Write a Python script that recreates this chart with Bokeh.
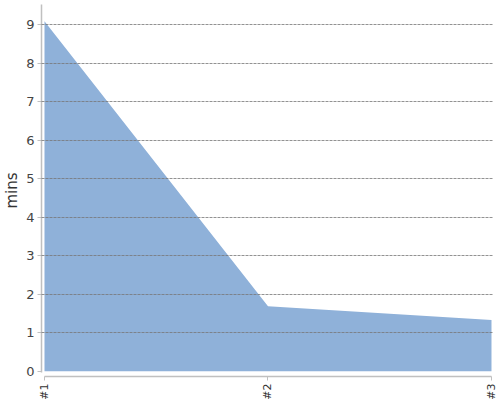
from bokeh.plotting import figure
from bokeh.models import Range1d, FixedTicker, ColumnDataSource
from bokeh.embed import file_html
from bokeh.resources import INLINE
import math

categories = ["#1", "#2", "#3"]
values = [9.09, 1.69, 1.33]
y_ticks = [0, 1, 2, 3, 4, 5, 6, 7, 8, 9]

xs = list(range(len(categories)))
src = ColumnDataSource(dict(x=xs, top=values, base=[0] * len(values)))

p = figure(output_backend="svg", toolbar_location=None,
           frame_width=451, frame_height=372,
           x_range=Range1d(-0.0134, 2.0045), y_range=Range1d(-0.138, 9.527),
           min_border_left=32, min_border_right=9, min_border_top=4, min_border_bottom=0)
p.outline_line_color = None
p.background_fill_color = "white"
p.border_fill_color = "white"

p.varea(x="x", y1="base", y2="top", source=src, fill_color="#8fb1d9", fill_alpha=1.0)

font = "DejaVu Sans"
# y axis
ya = p.yaxis[0]
ya.ticker = FixedTicker(ticks=y_ticks)
ya.bounds = (-0.04, 9.527)
ya.axis_label = "mins"
ya.axis_label_text_font = font
ya.axis_label_text_font_size = "15px"
ya.axis_label_text_font_style = "normal"
ya.axis_label_text_color = "#333333"
ya.axis_label_standoff = 2
ya.major_label_text_font = font
ya.major_label_text_font_size = "13px"
ya.major_label_text_color = "#444444"
ya.major_label_standoff = 3
ya.axis_line_color = "#c0c0c0"
ya.axis_line_width = 1.5
ya.major_tick_line_color = "#c0c0c0"
ya.major_tick_out = 4
ya.major_tick_in = 0
ya.minor_tick_line_color = None

# x axis
xa = p.xaxis[0]
xa.ticker = FixedTicker(ticks=xs)
xa.major_label_overrides = {i: c for i, c in enumerate(categories)}
xa.bounds = (0, 2)
xa.major_label_orientation = math.pi / 2
xa.major_label_text_font = font
xa.major_label_text_font_size = "11px"
xa.major_label_text_color = "#333333"
xa.major_label_standoff = 3
xa.axis_line_color = "#c0c0c0"
xa.axis_line_width = 1.5
xa.major_tick_line_color = "#c0c0c0"
xa.major_tick_out = 4
xa.major_tick_in = 0
xa.minor_tick_line_color = None

p.xgrid.grid_line_color = None
p.ygrid.ticker = FixedTicker(ticks=y_ticks[1:])
p.ygrid.grid_line_color = "#777777"
p.ygrid.grid_line_alpha = 0.8
p.ygrid.grid_line_dash = "3 1"
p.ygrid.grid_line_width = 1
p.ygrid.level = "overlay"

open("out.html", "w").write(file_html(p, INLINE))
